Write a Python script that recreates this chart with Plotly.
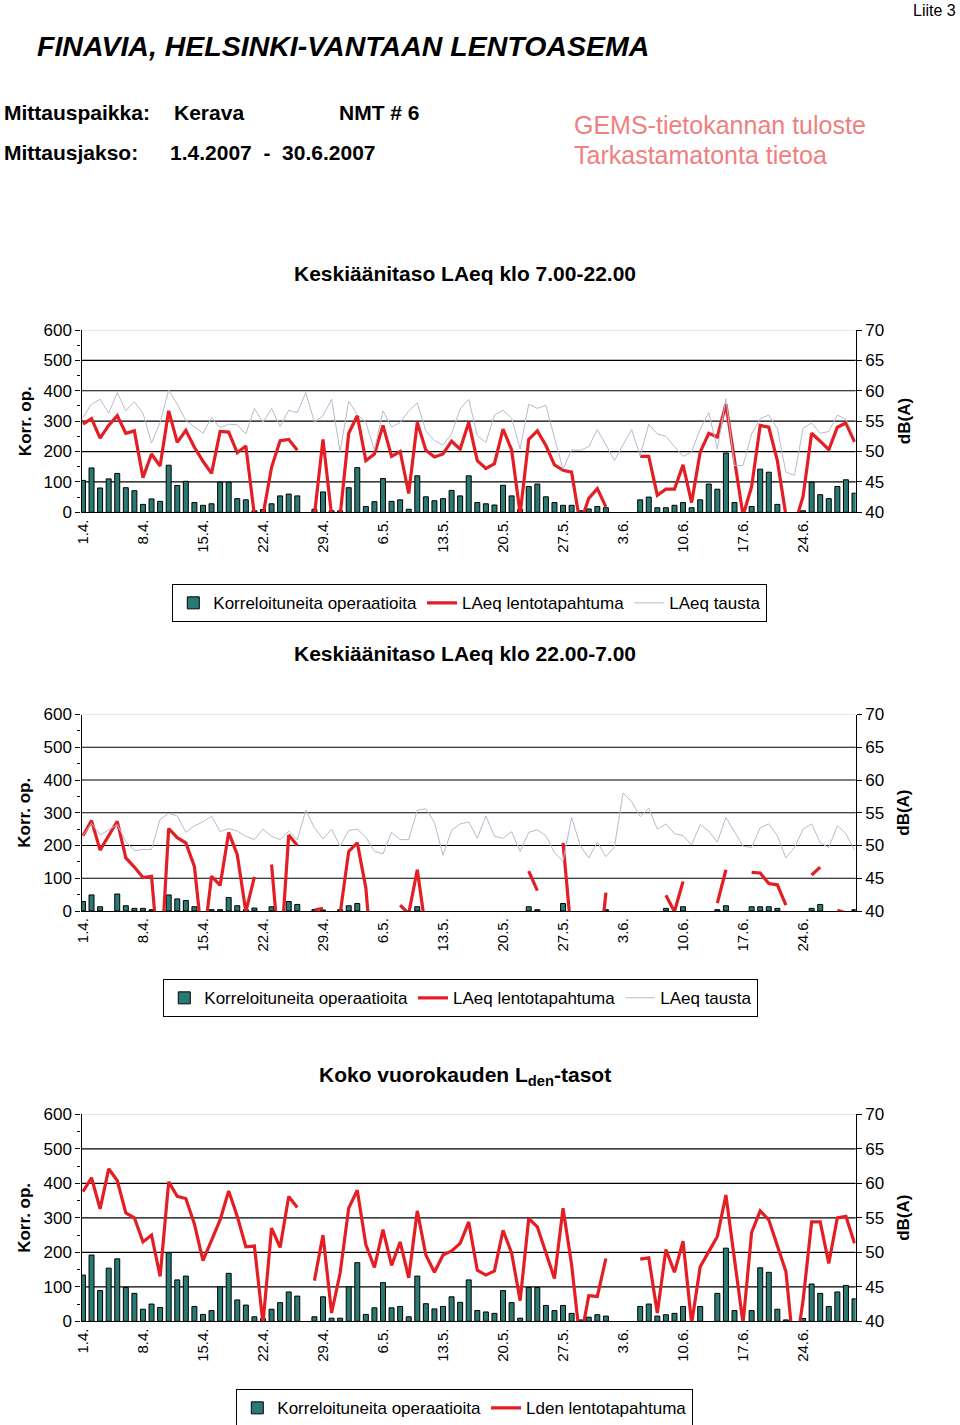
import pandas as pd
import plotly.graph_objects as go

# categories: one per day, 1.4.2007 - 30.6.2007
days = [f"{d.day}.{d.month}." for d in pd.date_range("2007-04-01", "2007-06-30")]
tick_days = days[::7]

N = None

# Keskiäänitaso LAeq klo 7.00-22.00
ops_day = [105, 146, 80, 110, 128, 81, 71, 26, 44, 36,
           155, 88, 102, 32, 23, 28, 99, 99, 45, 41,
           5, 9, 28, 54, 60, 54, N, 10, 67, 5,
           5, 81, 147, 19, 35, 111, 36, 41, 10, 120,
           51, 38, 45, 72, 54, 120, 32, 28, 24, 89,
           54, 10, 85, 93, 51, 32, 23, 23, 5, 11,
           19, 15, N, N, N, 41, 50, 15, 15, 23,
           32, 15, 41, 93, 76, 195, 32, N, 19, 142,
           132, 26, N, N, 5, 99, 58, 45, 85, 107,
           63]
laeq_day = [54.5, 55.4, 52.2, 54.3, 55.9, 53.0, 53.4, 45.7, 49.6, 47.6,
            56.7, 51.5, 53.5, 50.7, 48.4, 46.4, 53.3, 53.2, 49.8, 50.9,
            39.5, 39.5, 47.4, 51.8, 52.0, 50.2, N, 39.5, 52.0, 39.5,
            39.5, 53.0, 55.9, 48.5, 49.6, 54.3, 49.2, 50.0, 43.1, 54.8,
            50.2, 49.1, 49.6, 51.7, 50.4, 54.8, 48.5, 47.2, 48.0, 53.7,
            50.3, 39.8, 52.0, 53.4, 51.0, 47.8, 46.9, 46.6, 38.1, 42.3,
            43.9, 40.9, N, N, N, 49.2, 49.2, 42.8, 43.8, 43.8,
            47.8, 41.6, 49.9, 53.0, 52.4, 57.8, 48.8, 39.5, 44.2, 54.3,
            54.0, 48.5, 39.5, 37.9, 42.6, 53.0, 51.7, 50.3, 54.0, 54.7,
            51.6]
bg_day = [55.6, 57.8, 58.6, 56.3, 59.7, 56.7, 58.2, 56.3, 51.4, 54.8,
          60.1, 57.8, 55.1, 54.0, 53.0, 55.6, 53.9, 54.5, 54.4, 52.9,
          57.1, 54.8, 57.1, 54.1, 56.8, 56.4, 59.7, 54.8, 55.9, 58.6,
          50.0, 58.3, 56.1, 54.8, 50.2, 56.7, 54.0, 54.8, 56.7, 58.0,
          53.4, 51.8, 51.1, 52.9, 57.0, 58.6, 52.6, 51.5, 56.0, 56.8,
          55.5, 50.4, 57.8, 57.1, 57.6, 52.3, 47.1, 50.3, 50.2, 50.8,
          53.6, 51.1, 48.5, 51.1, 53.6, 49.3, 54.5, 52.9, 52.5, 50.8,
          49.2, 49.9, 53.7, 56.4, 50.4, 58.7, 47.7, 47.7, 52.9, 55.4,
          56.0, 53.8, 46.6, 46.1, 53.8, 54.7, 53.0, 53.3, 56.0, 55.3,
          52.3]

# Keskiäänitaso LAeq klo 22.00-7.00
ops_night = [29, 49, 13, N, 52, 16, 8, 8, 4, N,
             49, 37, 32, 13, N, 4, 4, 41, 16, 4,
             9, N, 13, N, 29, 20, N, 4, 3, N,
             4, 16, 23, N, N, N, N, N, N, 13,
             N, N, N, N, N, N, N, N, N, N,
             N, N, 13, 4, N, N, 23, N, N, N,
             N, 4, N, N, N, N, N, N, 8, N,
             13, N, N, N, 4, 16, N, N, 13, 13,
             13, 8, N, N, N, 8, 20, N, N, N,
             4]
laeq_night = [51.5, 53.8, 49.3, 51.5, 53.7, 48.1, 46.7, 45.1, 45.3, 30.0,
              52.6, 51.2, 50.4, 46.8, 34.5, 45.3, 43.9, 52.0, 48.6, 39.9,
              45.2, N, 47.1, 32.0, 51.6, 50.0, N, 40.15, 40.4, N,
              39.6, 49.1, 50.4, 43.5, 28.0, N, N, 40.9, 39.6, 46.3,
              37.0, N, N, N, N, N, N, N, N, N,
              N, N, 46.1, 43.1, N, N, 50.4, 36.0, N, N,
              30.0, 42.8, N, N, N, N, N, N, 42.4, 39.9,
              44.5, N, N, N, 41.2, 46.3, N, N, 45.9, 45.8,
              44.2, 44.0, 40.9, N, N, 45.5, 46.7, N, 40.1, 39.7,
              N]
bg_night = [51.5, 53.4, 51.6, 52.4, 53.2, 50.6, 49.2, 49.4, 49.4, 54.0,
            54.9, 54.5, 52.0, 53.0, 53.6, 54.5, 52.1, 52.6, 52.2, 51.4,
            50.9, 52.5, 51.4, 50.9, 52.2, 50.9, 55.4, 52.7, 51.0, 52.5,
            49.9, 52.3, 52.5, 51.3, 49.1, 48.7, 52.0, 50.9, 50.9, 55.4,
            55.6, 53.5, 48.5, 52.3, 53.3, 53.6, 51.1, 54.5, 51.4, 51.1,
            52.1, 49.1, 52.0, 52.4, 51.5, 48.9, 47.6, 54.3, 50.0, 48.1,
            50.5, 48.3, 49.8, 58.0, 56.7, 54.4, 55.7, 52.5, 53.3, 51.8,
            51.5, 50.1, 53.2, 52.2, 50.5, 54.3, 52.0, 49.9, 49.7, 52.7,
            53.3, 51.5, 48.1, 49.7, 52.5, 53.3, 50.4, 49.7, 53.0, 51.8,
            49.3]

# Koko vuorokauden Lden-tasot
ops_total = [134, 192, 89, 154, 181, 98, 81, 35, 50, 40,
             199, 120, 131, 43, 20, 31, 100, 139, 62, 47,
             13, 8, 35, 54, 85, 73, N, 13, 71, 9,
             9, 100, 170, 20, 39, 112, 39, 43, 13, 131,
             51, 36, 43, 71, 55, 120, 31, 27, 23, 89,
             54, 9, 98, 98, 46, 31, 46, 23, 4, 12,
             19, 15, N, N, N, 43, 50, 15, 19, 23,
             43, N, 43, N, 81, 212, 31, N, 31, 155,
             142, 35, 4, N, 8, 108, 81, 43, 85, 104,
             65]
lden_total = [58.8, 60.8, 56.3, 62.1, 60.4, 55.7, 55.0, 51.5, 52.5, 46.5,
              60.2, 58.1, 57.8, 54.1, 48.8, 51.8, 54.7, 58.9, 55.2, 50.8,
              50.9, 39.7, 53.5, 50.7, 58.1, 56.5, N, 45.9, 52.5, 41.2,
              47.0, 56.4, 59.0, 51.1, 47.8, 53.3, 48.1, 51.5, 46.3, 56.0,
              49.6, 47.1, 49.6, 50.2, 51.3, 54.4, 47.4, 46.7, 47.3, 53.2,
              49.9, 43.0, 54.9, 53.7, 50.1, 46.2, 56.4, 48.2, 37.0, 43.7,
              43.6, 49.1, N, N, N, 49.0, 49.2, 41.2, 50.4, 47.1,
              51.6, 39.7, 47.9, 50.1, 52.3, 58.3, 48.6, 39.7, 52.9, 56.0,
              54.7, 51.1, 47.2, 34.6, 43.0, 54.4, 54.4, 48.4, 55.0, 55.2,
              51.3]

W, H = 960, 1425
FONT = "Liberation Sans, Arial, Helvetica, sans-serif"
TEAL = "#2a7a74"
RED = "#e31e24"
GRAY = "#b9b9cf"
PINK = "#f08080"


def px(x):
    return x / W


def py(y):
    return 1 - y / H


fig = go.Figure()
layout = {}


def add_panel(k, top, bottom, bars, red, red_name, gray, legend):
    xa = "x" if k == 1 else f"x{k}"
    yl = "y" if k == 1 else f"y{2 * k - 1}"
    yr = f"y{2 * k}"
    mid = (top + bottom) / 2

    fig.add_trace(go.Bar(x=days, y=bars, xaxis=xa, yaxis=yl, legend=legend,
                         name="Korreloituneita operaatioita",
                         marker=dict(color=TEAL, line=dict(color="black", width=1))))
    fig.add_trace(go.Scatter(x=days, y=red, xaxis=xa, yaxis=yr, legend=legend,
                             name=red_name, mode="lines",
                             line=dict(color=RED, width=3.2)))
    if gray is not None:
        fig.add_trace(go.Scatter(x=days, y=gray, xaxis=xa, yaxis=yr, legend=legend,
                                 name="LAeq tausta", mode="lines",
                                 line=dict(color=GRAY, width=1)))

    layout["xaxis" if k == 1 else f"xaxis{k}"] = dict(
        type="category", categoryorder="array", categoryarray=days,
        range=[-0.17, 90.14], domain=[px(81.5), px(855.7)], anchor=yl,
        tickvals=tick_days, ticktext=tick_days, tickangle=-90,
        tickfont=dict(size=15, color="black"), ticks="", automargin=False,
        showline=True, linecolor="black", linewidth=1.3, showgrid=False, zeroline=False,
    )
    layout["yaxis" if k == 1 else f"yaxis{2 * k - 1}"] = dict(
        range=[0, 600], dtick=100, domain=[py(bottom), py(top)], anchor=xa,
        ticks="outside", ticklen=5, tickcolor="black", tickwidth=1.2,
        minor=dict(dtick=50, ticks="outside", ticklen=3, tickcolor="black", tickwidth=1.2),
        tickfont=dict(size=17, color="black"), showline=True, linecolor="black",
        linewidth=1.3, showgrid=False, zeroline=False, automargin=False,
    )
    layout[f"yaxis{2 * k}"] = dict(
        range=[40, 70], dtick=5, overlaying=yl, side="right", anchor=xa,
        ticks="outside", ticklen=5, tickcolor="black", tickwidth=1.2,
        tickfont=dict(size=17, color="black"), showline=True, linecolor="black",
        linewidth=1.3, showgrid=False, zeroline=False, automargin=False,
    )

    # horizontal gridlines
    for v in range(100, 600, 100):
        fig.add_shape(type="line", xref=f"{xa} domain", yref=yl, x0=0, x1=1, y0=v, y1=v,
                      line=dict(color="black", width=1.2), layer="below")
    fig.add_shape(type="line", xref=f"{xa} domain", yref=yl, x0=0, x1=1, y0=600, y1=600,
                  line=dict(color="#d4d4d4", width=1), layer="below")

    fig.add_annotation(text="<b>Korr. op.</b>", x=px(25), y=py(mid), xref="paper", yref="paper",
                       xanchor="center", yanchor="middle",
                       textangle=-90, showarrow=False, font=dict(size=17))
    fig.add_annotation(text="<b>dB(A)</b>", x=px(904), y=py(mid), xref="paper", yref="paper",
                       xanchor="center", yanchor="middle",
                       textangle=-90, showarrow=False, font=dict(size=17))


add_panel(1, 330, 512.3, ops_day, laeq_day, "LAeq lentotapahtuma", bg_day, "legend")
add_panel(2, 714.5, 911, ops_night, laeq_night, "LAeq lentotapahtuma", bg_night, "legend2")
add_panel(3, 1114.3, 1321.3, ops_total, lden_total, "Lden lentotapahtuma", None, "legend3")

legend_style = dict(orientation="h", xanchor="left", yanchor="top", bgcolor="white",
                    bordercolor="black", borderwidth=1.3, font=dict(size=17, color="black"),
                    traceorder="normal")
layout["legend"] = dict(x=px(172), y=py(584), **legend_style)
layout["legend2"] = dict(x=px(163), y=py(979), **legend_style)
layout["legend3"] = dict(x=px(236), y=py(1389), **legend_style)

texts = [
    ("Liite 3", 958, 10, "right", 16, "black"),
    ("<b><i>FINAVIA, HELSINKI-VANTAAN LENTOASEMA</i></b>", 35, 46, "left", 28.5, "black"),
    ("<b>Mittauspaikka:</b>", 2, 112, "left", 21, "black"),
    ("<b>Kerava</b>", 172, 112, "left", 21, "black"),
    ("<b>NMT # 6</b>", 337, 112, "left", 21, "black"),
    ("<b>Mittausjakso:</b>", 2, 152, "left", 21, "black"),
    ("<b>1.4.2007\u00a0\u00a0-\u00a0\u00a030.6.2007</b>", 168, 152, "left", 21, "black"),
    ("GEMS-tietokannan tuloste", 572, 125, "left", 25, PINK),
    ("Tarkastamatonta tietoa", 572, 155, "left", 25, PINK),
    ("<b>Keskiäänitaso LAeq klo 7.00-22.00</b>", 465, 273, "center", 21, "black"),
    ("<b>Keskiäänitaso LAeq klo 22.00-7.00</b>", 465, 654, "center", 21, "black"),
    ("<b>Koko vuorokauden L<sub>den</sub>-tasot</b>", 465, 1076, "center", 21, "black"),
]
for text, x, y, anchor, size, color in texts:
    fig.add_annotation(text=text, x=px(x), y=py(y), xref="paper", yref="paper",
                       xanchor=anchor, yanchor="middle", showarrow=False,
                       font=dict(size=size, color=color))

fig.update_layout(
    template="none",
    width=W, height=H, autosize=False,
    margin=dict(l=0, r=0, t=0, b=0, pad=0, autoexpand=False),
    paper_bgcolor="white", plot_bgcolor="white",
    font=dict(family=FONT, color="black"),
    bargap=0.42, showlegend=True,
    **layout,
)

# the page's default body margin would push the 960 px figure out of the window
fig.write_html("out.html", config={"displayModeBar": False},
               post_script="document.body.style.margin = '0px';")
